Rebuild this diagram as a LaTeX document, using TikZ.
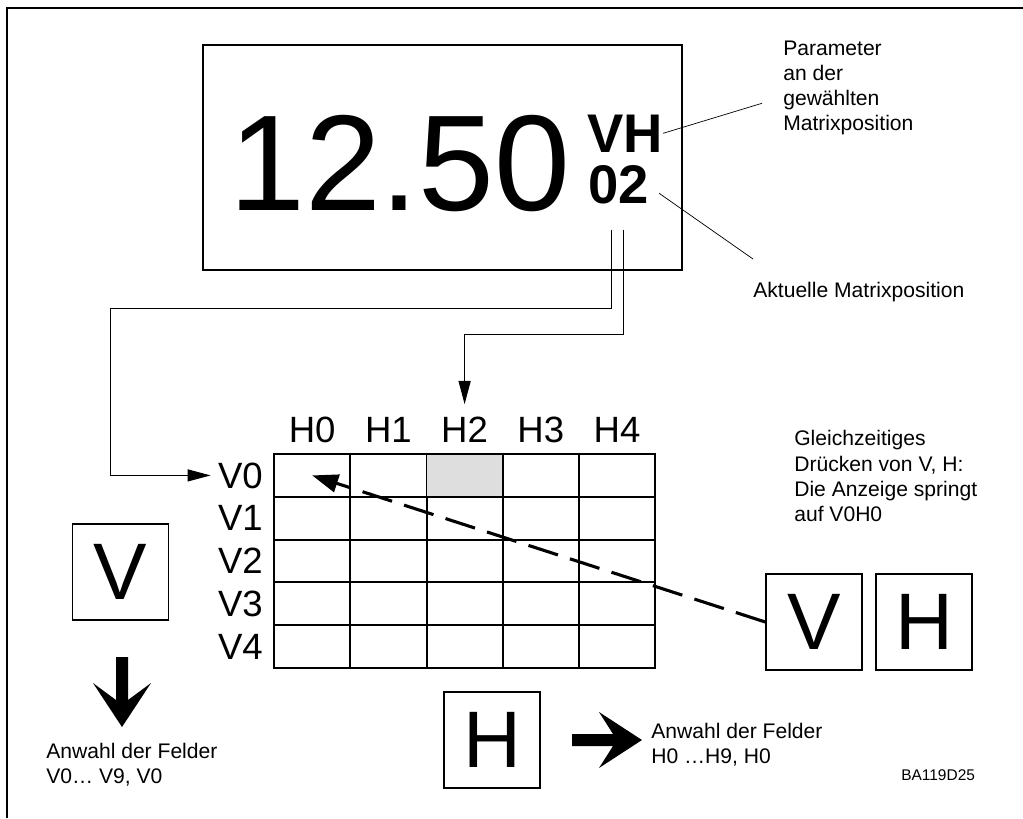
\documentclass[tikz,border=0pt]{standalone}
\usepackage{fontspec}
\setmainfont{Liberation Sans}
\usetikzlibrary{arrows.meta,calc}
\definecolor{cellshade}{gray}{0.87}

\begin{document}
\begin{tikzpicture}[
    x=0.025cm, y=-0.025cm,
    display/.style={draw, line width=1.2pt, minimum width=11.975cm, minimum height=5.625cm, inner sep=0pt},
    bigval/.style={inner sep=0pt, anchor=base west, font=\fontsize{97}{110}\selectfont},
    tag/.style={inner sep=0pt, anchor=base west, font=\fontsize{38.7}{42}\selectfont\bfseries},
    key/.style={draw, line width=1pt, minimum width=2.4cm, minimum height=2.4cm, inner sep=0pt, font=\fontsize{57}{60}\selectfont},
    cell/.style={draw, line width=1.4pt, minimum width=1.905cm, minimum height=1.07cm, inner sep=0pt},
    axlab/.style={inner sep=0pt, font=\fontsize{26}{30}\selectfont},
    note/.style={inner sep=0pt, anchor=north west, align=left, font=\fontsize{15}{17.8}\selectfont},
    link/.style={line width=0.9pt, -{Triangle[length=5.8mm, width=3mm]}},
    lead/.style={line width=0.5pt},
    jump/.style={line width=2.2pt, dash pattern=on 22pt off 9pt, -{Triangle[length=6.5mm, width=4.5mm]}}
]
\useasboundingbox (0,0) rectangle (1023,818);

% ---- Frame ----
\draw[line width=1pt] (7,818) -- (7,8) -- (1023,8);

% ---- Display ----
\node[display] (disp) at (442.5,157.5) {};
\node[bigval] (val) at (229,210) {12.50};
\node[tag] (vh) at (587,152) {VH};
\node[tag] (pos) at (588,203) {02};
\coordinate (vtap) at ($(pos.south)+(-7,26)$);
\coordinate (htap) at ($(pos.south)+(5,26)$);

% ---- Callouts ----
\node[note] (param) at (783,41) {Parameter\\an der\\gewählten\\Matrixposition};
\node[note] (akt) at (753,282) {Aktuelle Matrixposition};
\draw[lead] (vh.east) -- ($(param.west)+(-21,15)$);
\draw[lead] ($(pos.east)+(10,9)$) -- ($(akt.north west)+(0,-23)$);

% ---- Matrix ----
\foreach \r in {0,...,4}
  \foreach \c in {0,...,4}
    \node[cell] (c\r\c) at ({312.2+76.2*\c},{475.4+42.8*\r}) {};
\node[cell, fill=cellshade] (sel) at (c02) {};
\foreach \c in {0,...,4}
  \node[axlab, anchor=base] (h\c) at ({312.2+76.2*\c},442) {H\c};
\foreach \r in {0,...,4}
  \node[axlab, anchor=east] (v\r) at (263,{475.4+42.8*\r}) {V\r};

% ---- Links display -> matrix ----
\draw[link, shorten >=1.75mm] (vtap) |- ++(-501,79) |- (v0.west);
\draw[link, shorten >=3mm] (htap) |- ($(h2.north)+(0,-82)$) -- (h2.north);

% ---- V key ----
\node[key] (vkey) at (120.5,572) {V};
\fill (116,657) -- (128,657) -- (128,700) -- (151,683) -- (122,727) -- (93,683) -- (116,700) -- cycle;
\node[note] (vnote) at (46,743) {Anwahl der Felder\\V0… V9, V0};

% ---- H key ----
\node[key] (hkey) at (492,740) {H};
\fill (572,734) -- (613,734) -- (599,712) -- (642,740) -- (599,768) -- (613,746) -- (572,746) -- cycle;
\node[note] (hnote) at (651,723) {Anwahl der Felder\\H0 …H9, H0};

% ---- V + H keys ----
\node[key] (vboth) at (814,622) {V};
\node[key] (hboth) at (924,622) {H};
\node[note, font=\fontsize{15}{18.1}\selectfont] (both) at (794,430) {Gleichzeitiges\\Drücken von V, H:\\Die Anzeige springt\\auf V0H0};
\draw[jump] (vboth.west) -- (c00.center);

% ---- Figure id ----
\node[inner sep=0pt, anchor=base west, font=\fontsize{11}{13}\selectfont] (figid) at (901,780) {BA119D25};

\end{tikzpicture}
\end{document}
